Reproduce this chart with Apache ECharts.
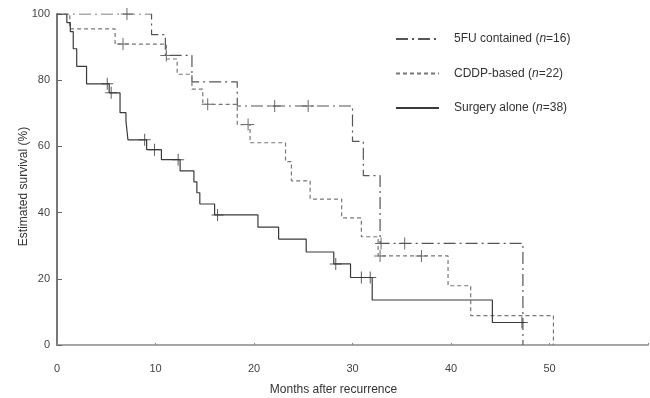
<!DOCTYPE html>
<html>
<head>
<meta charset="utf-8">
<script src="https://cdn.jsdelivr.net/npm/echarts@6/dist/echarts.min.js"></script>
<style>
  html, body { margin: 0; padding: 0; background: #fff; }
  #chart { width: 650px; height: 398px; }
</style>
</head>
<body>
<div id="chart"></div>
<script>
// Kaplan-Meier steps: [month, survival %]
const fuSteps = [[0, 100], [9.6, 93.75], [11.0, 87.5], [13.7, 79.5], [18.3, 72.2],
  [30.0, 61.5], [31.1, 51.2], [32.8, 30.7], [47.3, 0]];
const fuCensor = [[7.1, 100], [11.1, 87.5], [22.1, 72.2], [25.5, 72.2], [32.9, 30.7], [35.3, 30.7]];

const cddpSteps = [[0, 100], [1.3, 95.5], [5.9, 90.9], [11.1, 86.4], [12.2, 81.8], [13.7, 77.3],
  [14.8, 72.7], [18.3, 66.6], [19.6, 61.1], [23.2, 55.4], [23.8, 49.6], [25.7, 44.1],
  [28.9, 38.4], [30.9, 32.7], [32.6, 26.9], [39.7, 17.9], [42.0, 8.9], [50.4, 0]];
const cddpCensor = [[6.7, 90.9], [15.3, 72.7], [19.4, 66.6], [32.8, 26.9], [37.0, 26.9]];

const surgerySteps = [[0, 100], [1.0, 97.4], [1.35, 94.7], [1.65, 89.5], [2.0, 84.2], [3.0, 78.9],
  [5.3, 76.2], [6.4, 70.2], [7.0, 67.7], [7.2, 62.0], [9.1, 59.0], [10.6, 56.0], [12.5, 52.6],
  [13.9, 49.3], [14.2, 46.0], [14.5, 42.6], [16.0, 39.3], [20.4, 35.6], [22.5, 32.0],
  [25.3, 28.1], [28.1, 24.5], [29.8, 20.4], [32.0, 13.6], [44.2, 6.8], [47.5, 6.8]];
const surgeryCensor = [[5.1, 78.9], [5.5, 76.2], [8.9, 62.0], [9.9, 59.0], [12.3, 56.0], [16.3, 39.3],
  [28.3, 24.5], [30.9, 20.4], [31.8, 20.4], [47.2, 6.8]];

const seriesNames = ['5FU contained', 'CDDP-based', 'Surgery alone'];
const groupSizes = [16, 22, 38];
const xTicks = [0, 10, 20, 30, 40, 50];

// thin "+" mark used for censored patients
const CROSS = 'path://M5.5,0h1v5.5h5.5v1h-5.5v5.5h-1v-5.5h-5.5v-1h5.5z';

const chart = echarts.init(document.getElementById('chart'));

const stepLine = (name, data, color, type) => ({
  name: name,
  type: 'line',
  step: 'end',
  data: data,
  symbol: 'none',
  silent: true,
  lineStyle: { color: color, width: 1.2, type: type },
  itemStyle: { color: color }
});

const censorMarks = (data, color) => ({
  type: 'scatter',
  data: data,
  symbol: CROSS,
  symbolSize: 12,
  silent: true,
  itemStyle: { color: color }
});

const option = {
  animation: false,
  backgroundColor: '#fff',
  textStyle: { fontFamily: 'Liberation Sans, Arial, sans-serif' },
  grid: { left: 57, right: 2, top: 14, bottom: 53, outerBoundsMode: 'none' },
  legend: {
    data: seriesNames,
    orient: 'vertical',
    left: 395,
    top: 33,
    padding: 0,
    itemWidth: 43,
    itemHeight: 14,
    itemGap: 22.5,
    selectedMode: false,
    itemStyle: { opacity: 0 },
    formatter: (name) => {
      const i = seriesNames.indexOf(name);
      return name + ' ({i|n}=' + groupSizes[i] + ')';
    },
    textStyle: {
      color: '#333',
      fontSize: 12,
      padding: [0, 0, 0, 10],
      rich: { i: { fontStyle: 'italic', fontSize: 12, color: '#333' } }
    }
  },
  xAxis: {
    type: 'value',
    min: 0,
    max: 60,
    interval: 10,
    name: 'Months after recurrence',
    nameLocation: 'middle',
    nameGap: 39,
    nameMoveOverlap: false,
    nameTextStyle: { color: '#333', fontSize: 12, padding: [0, 38, 0, 0] },
    axisLine: { lineStyle: { color: '#888', width: 1.5 } },
    axisTick: { show: true, inside: true, length: 2, lineStyle: { color: '#888' } },
    axisLabel: {
      color: '#444',
      fontSize: 11,
      margin: 18,
      formatter: (v) => (xTicks.includes(v) ? String(v) : '')
    },
    splitLine: { show: false }
  },
  yAxis: {
    type: 'value',
    min: 0,
    max: 100,
    interval: 20,
    name: 'Estimated survival (%)',
    nameLocation: 'middle',
    nameGap: 27,
    nameMoveOverlap: false,
    nameTextStyle: { color: '#333', fontSize: 12, padding: [0, 14, 0, 0] },
    axisLine: { show: true, lineStyle: { color: '#777', width: 2 } },
    axisTick: { show: true, inside: true, length: 5, lineStyle: { color: '#666' } },
    axisLabel: { color: '#444', fontSize: 11, margin: 7 },
    splitLine: { show: false }
  },
  series: [
    stepLine('5FU contained', fuSteps, '#555', [12, 4, 2, 4]),
    stepLine('CDDP-based', cddpSteps, '#777', [4, 3]),
    stepLine('Surgery alone', surgerySteps, '#3a3a3a', 'solid'),
    censorMarks(fuCensor, '#444'),
    censorMarks(cddpCensor, '#444'),
    censorMarks(surgeryCensor, '#333')
  ]
};

chart.setOption(option);
</script>
</body>
</html>
